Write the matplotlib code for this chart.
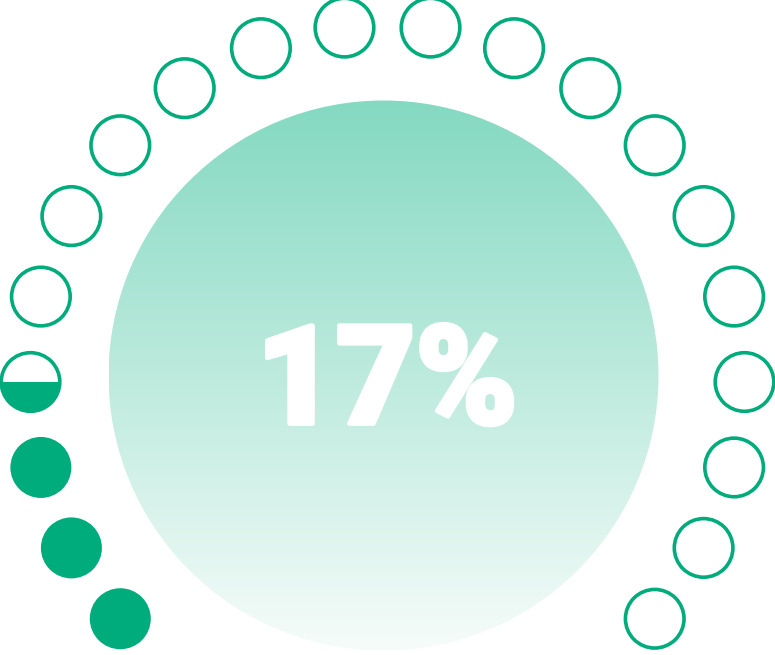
import numpy as np
import matplotlib.pyplot as plt
import matplotlib.patheffects as pe
from matplotlib.patches import Circle, Rectangle

# gauge data
percent = 17
n_dots = 20
label = f"{percent}%"

W, H = 775, 655
green = "#00ab7c"
top_col = np.array([132, 217, 193]) / 255
bot_col = np.array([246, 252, 250]) / 255

fig = plt.figure(figsize=(W / 100, H / 100), dpi=100)
ax = fig.add_axes([0, 0, 1, 1])
ax.set_xlim(0, W)
ax.set_ylim(H, 0)
ax.axis("off")

# big gradient disc
bcx, bcy, br = 383.5, 375.5, 275
grad = np.linspace(0, 1, 256)[:, None, None]
img = top_col * (1 - grad) + bot_col * grad
img = np.repeat(img, 2, axis=1)
im = ax.imshow(img, extent=[bcx - br, bcx + br, bcy + br, bcy - br],
               aspect="auto", zorder=1, interpolation="bilinear")
disc = Circle((bcx, bcy), br, transform=ax.transData, facecolor="none", edgecolor="none")
ax.add_patch(disc)
im.set_clip_path(disc)

# ring of dots
cx, cy, R = 387.5, 382, 357
step = 360 / 26
filled = percent / 100 * n_dots
full = int(filled)
part = round((filled - full) * 2) / 2
r_dot = 29.3

for i in range(n_dots):
    a = np.deg2rad(90 + (9.5 - i) * step)
    x = cx + R * np.cos(a)
    y = cy - R * np.sin(a)
    if i < full:
        ax.add_patch(Circle((x, y), r_dot + 1.2, facecolor=green, edgecolor="none", zorder=3))
    else:
        ax.add_patch(Circle((x, y), r_dot, facecolor="none", edgecolor=green, lw=2.6, zorder=3))
        if i == full and part > 0:
            fill = Circle((x, y), r_dot, facecolor=green, edgecolor="none", zorder=3)
            ax.add_patch(fill)
            level = y + r_dot - 2 * r_dot * part
            clip = Rectangle((x - r_dot - 2, level), 2 * r_dot + 4, 2 * r_dot + 4,
                             transform=ax.transData)
            fill.set_clip_path(clip)

ax.text(387, 386, label, ha="center", va="center", color="white",
        fontsize=99, fontweight="black", family=["Roboto", "DejaVu Sans"], zorder=4,
        path_effects=[pe.withStroke(linewidth=3.5, foreground="white")])

fig.savefig("out.png", dpi=100)
